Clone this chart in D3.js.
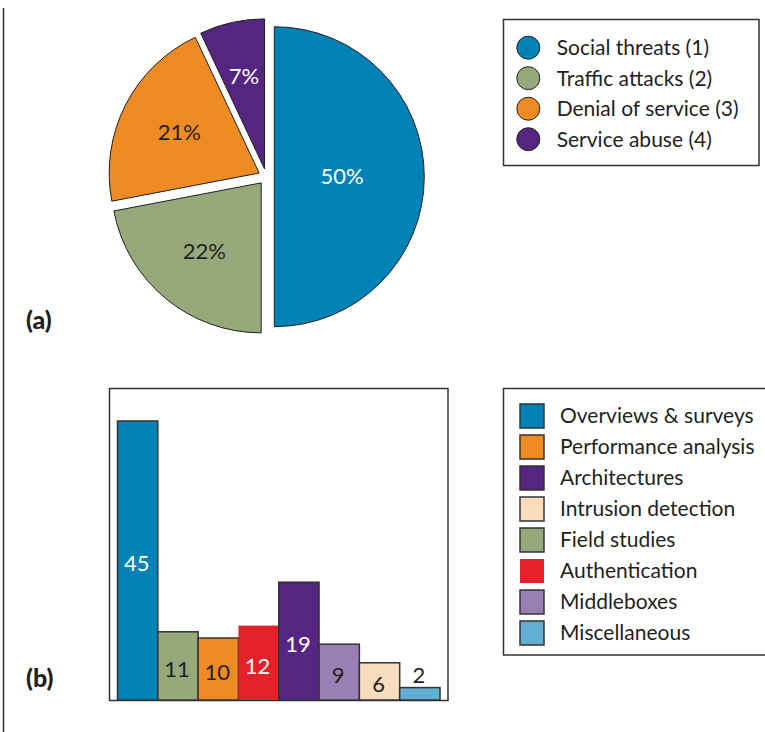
<!DOCTYPE html>
<html>
<head>
<meta charset="utf-8">
<script src="https://cdnjs.cloudflare.com/ajax/libs/d3/7.8.5/d3.min.js"></script>
<style>
  body { margin: 0; background: #fff; }
  text { font-family: Lato, "Noto Sans", sans-serif; }
</style>
</head>
<body>
<script>
// pie (a)
var pieLabels = ['Social threats (1)', 'Traffic attacks (2)', 'Denial of service (3)', 'Service abuse (4)'];
var pieValues = [50, 22, 21, 7];
var pieColors = ['#0082b6', '#96a97b', '#ee8b22', '#552681'];

// bars (b), in the order they are drawn
var barNames = ['Overviews & surveys', 'Field studies', 'Performance analysis', 'Authentication',
                'Architectures', 'Middleboxes', 'Intrusion detection', 'Miscellaneous'];
var barValues = [45, 11, 10, 12, 19, 9, 6, 2];
var barColors = ['#0082b6', '#96a97b', '#ee8b22', '#e2212b', '#552681', '#9880b4', '#fadcbe', '#63afd3'];
// legend order for (b)
var barLegend = ['Overviews & surveys', 'Performance analysis', 'Architectures', 'Intrusion detection',
                 'Field studies', 'Authentication', 'Middleboxes', 'Miscellaneous'];

var W = 765, H = 732;
var svg = d3.select('body').append('svg').attr('width', W).attr('height', H);
svg.append('rect').attr('width', W).attr('height', H).attr('fill', '#fff');

function labelColor(c) { return d3.lab(c).l < 54 ? '#fff' : '#231f20'; }

// left rule
svg.append('line').attr('x1', 3.5).attr('x2', 3.5).attr('y1', 8).attr('y2', H)
    .attr('stroke', '#333').attr('stroke-width', 1.5);

// ---- pie ----
var cx = 266.3, cy = 176.7, r = 150, pull = 8;
var pie = d3.pie().sort(null).value(function(d) { return d; });
var arc = d3.arc().innerRadius(0).outerRadius(r);
var arcs = pie(pieValues);

var gPie = svg.append('g').attr('transform', 'translate(' + cx + ',' + cy + ')');
var slice = gPie.selectAll('g.slice').data(arcs).enter().append('g')
    .attr('class', 'slice')
    .attr('transform', function(d) {
        var m = (d.startAngle + d.endAngle) / 2;
        return 'translate(' + (pull * Math.sin(m)) + ',' + (-pull * Math.cos(m)) + ')';
    });
slice.append('path').attr('d', arc)
    .attr('fill', function(d, i) { return pieColors[i]; })
    .attr('stroke', '#231f20').attr('stroke-width', 1);
slice.append('text')
    .attr('text-anchor', 'middle')
    .attr('dy', '0.35em')
    .attr('transform', function(d) {
        var m = (d.startAngle + d.endAngle) / 2,
            a = (d.endAngle - d.startAngle) / 2,
            k = 0.75 * (2 * r * Math.sin(a) / (3 * a)) + 20;   // pulled toward sector centroid
        return 'translate(' + (k * Math.sin(m)) + ',' + (-k * Math.cos(m)) + ')';
    })
    .attr('fill', function(d, i) { return labelColor(pieColors[i]); })
    .style('font-size', '22px')
    .text(function(d) { return d.data + '%'; });

// pie legend
svg.append('rect').attr('x', 503.5).attr('y', 19.5).attr('width', 255.5).attr('height', 146)
    .attr('fill', 'none').attr('stroke', '#333').attr('stroke-width', 1.5);
var pl = svg.selectAll('g.pl').data(pieLabels).enter().append('g')
    .attr('transform', function(d, i) { return 'translate(528.3,' + (47.7 + i * 30.5) + ')'; });
pl.append('circle').attr('r', 11.5)
    .attr('fill', function(d, i) { return pieColors[i]; })
    .attr('stroke', '#231f20').attr('stroke-width', 1);
pl.append('text').attr('x', 28.4).attr('dy', '0.35em')
    .style('font-size', '21px').attr('fill', '#231f20')
    .text(function(d) { return d; });

svg.append('text').attr('x', 26).attr('y', 329).style('font-size', '25px').style('font-weight', '900')
    .attr('fill', '#231f20').text('(a)');
svg.append('text').attr('x', 26).attr('y', 687).style('font-size', '25px').style('font-weight', '900')
    .attr('fill', '#231f20').text('(b)');

// ---- bars ----
var x = d3.scaleBand().domain(barNames).range([117.5, 440]).padding(0);
var y = d3.scaleLinear().domain([0, 45]).range([700, 421]);

svg.append('rect').attr('x', 109.5).attr('y', 388.5).attr('width', 338.5).attr('height', 312)
    .attr('fill', 'none').attr('stroke', '#333').attr('stroke-width', 1.5);

svg.selectAll('rect.bar').data(barValues).enter().append('rect')
    .attr('class', 'bar')
    .attr('x', function(d, i) { return x(barNames[i]); })
    .attr('width', x.bandwidth())
    .attr('y', function(d) { return y(d); })
    .attr('height', function(d) { return y(0) - y(d); })
    .attr('fill', function(d, i) { return barColors[i]; })
    .attr('stroke', function(d, i) { return barNames[i] == 'Authentication' ? 'none' : '#333'; })
    .attr('stroke-width', 1.5);

svg.selectAll('text.val').data(barValues).enter().append('text')
    .attr('class', 'val')
    .attr('text-anchor', 'middle')
    .attr('x', function(d, i) { return x(barNames[i]) + x.bandwidth() / 2 - 1; })
    .attr('y', function(d) {
        var h = y(0) - y(d);
        return h < 20 ? y(d) - 12 : (y(d) + y(0)) / 2 + 3;
    })
    .attr('dy', '0.35em')
    .attr('fill', function(d, i) {
        return (y(0) - y(d)) < 20 ? '#231f20' : labelColor(barColors[i]);
    })
    .style('font-size', '22px')
    .text(function(d) { return d; });

// bar legend (box runs off the right edge)
svg.append('rect').attr('x', 503.5).attr('y', 388.5).attr('width', 300).attr('height', 266.5)
    .attr('fill', 'none').attr('stroke', '#333').attr('stroke-width', 1.5);
var bl = svg.selectAll('g.bl').data(barLegend).enter().append('g')
    .attr('transform', function(d, i) { return 'translate(520,' + (404 + i * 31) + ')'; });
bl.append('rect').attr('width', 24).attr('height', 24)
    .attr('fill', function(d) { return barColors[barNames.indexOf(d)]; })
    .attr('stroke', function(d) { return d == 'Authentication' ? 'none' : '#333'; })
    .attr('stroke-width', 1.5);
bl.append('text').attr('x', 40).attr('y', 12).attr('dy', '0.35em')
    .style('font-size', '21px').attr('fill', '#231f20')
    .text(function(d) { return d; });
</script>
</body>
</html>
